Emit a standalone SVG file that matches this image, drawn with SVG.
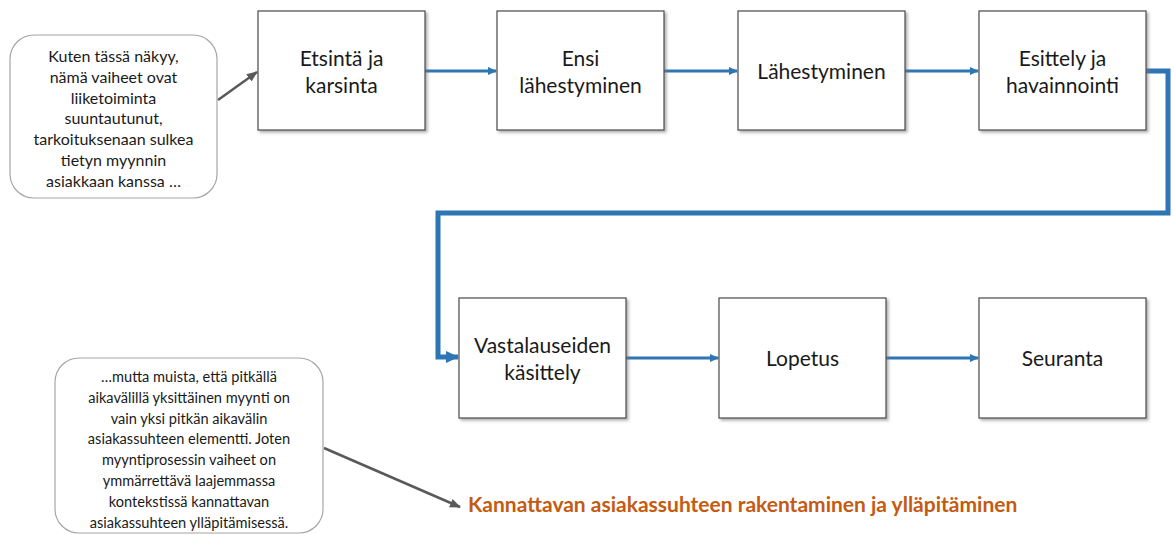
<svg xmlns="http://www.w3.org/2000/svg" width="1175" height="535" viewBox="0 0 1175 535">
<style>
.box{fill:#fff;stroke:#4a4a4a;stroke-width:1.2;filter:url(#sh)}
.bt{font-family:Lato,"Liberation Sans",sans-serif;font-size:21px;fill:#1a1a1a;text-anchor:middle}
.ct{font-family:Lato,"Liberation Sans",sans-serif;font-size:16px;fill:#1a1a1a;text-anchor:middle}
.ct2{font-family:Lato,"Liberation Sans",sans-serif;font-size:14.6px;fill:#1a1a1a;text-anchor:middle}
.call{fill:#fff;stroke:#a6a6a6;stroke-width:1.2}
.blue{fill:none;stroke:#2e75b6;stroke-width:3;marker-end:url(#ab)}
.blueb{fill:none;stroke:#2e75b6;stroke-width:5;stroke-linejoin:miter;marker-end:url(#abb)}
.grey{fill:none;stroke:#595959;stroke-width:2.5;marker-end:url(#ag)}
.ot{font-family:Lato,"Liberation Sans",sans-serif;font-size:21px;font-weight:bold;fill:#c55a11}
</style>
<defs>
<filter id="sh" x="-10%" y="-10%" width="130%" height="130%">
<feDropShadow dx="2" dy="2" stdDeviation="1.5" flood-color="#777" flood-opacity="0.6"/>
</filter>
<marker id="ab" markerWidth="10" markerHeight="10" refX="8" refY="5" orient="auto" markerUnits="userSpaceOnUse">
<path d="M0,1 L9,5 L0,9 Z" fill="#2e75b6"/>
</marker>
<marker id="abb" markerWidth="14" markerHeight="14" refX="12" refY="7" orient="auto" markerUnits="userSpaceOnUse">
<path d="M0,1 L13,7 L0,13 Z" fill="#2e75b6"/>
</marker>
<marker id="ag" markerWidth="12" markerHeight="12" refX="10" refY="6" orient="auto" markerUnits="userSpaceOnUse">
<path d="M0,1.5 L11,6 L0,10.5 Z" fill="#595959"/>
</marker>
</defs>

<g id="connectors">
<line class="blue" x1="425" y1="71" x2="496" y2="71"/>
<line class="blue" x1="664" y1="71" x2="737" y2="71"/>
<line class="blue" x1="905" y1="71" x2="978" y2="71"/>
<polyline class="blueb" points="1146,71 1168,71 1168,213 438,213 438,357 458,357"/>
<line class="blue" x1="626" y1="358" x2="718" y2="358"/>
<line class="blue" x1="886" y1="358" x2="978" y2="358"/>
<line class="grey" x1="218" y1="100" x2="257" y2="72"/>
<line class="grey" x1="324" y1="448" x2="460" y2="507"/>
</g>

<g id="n1"><rect class="box" x="258" y="11" width="167" height="119"/>
<text class="bt" x="341.5" y="66">Etsintä ja</text><text class="bt" x="341.5" y="93">karsinta</text></g>
<g id="n2"><rect class="box" x="497" y="11" width="167" height="119"/>
<text class="bt" x="580.5" y="66">Ensi</text><text class="bt" x="580.5" y="93">lähestyminen</text></g>
<g id="n3"><rect class="box" x="738" y="11" width="167" height="119"/>
<text class="bt" x="821.5" y="79">Lähestyminen</text></g>
<g id="n4"><rect class="box" x="979" y="11" width="167" height="119"/>
<text class="bt" x="1062.5" y="66">Esittely ja</text><text class="bt" x="1062.5" y="93">havainnointi</text></g>
<g id="n5"><rect class="box" x="459" y="298" width="167" height="120"/>
<text class="bt" x="542.5" y="353">Vastalauseiden</text><text class="bt" x="542.5" y="380">käsittely</text></g>
<g id="n6"><rect class="box" x="719" y="298" width="167" height="120"/>
<text class="bt" x="802.5" y="366">Lopetus</text></g>
<g id="n7"><rect class="box" x="979" y="298" width="167" height="120"/>
<text class="bt" x="1062.5" y="366">Seuranta</text></g>

<g id="callout1"><rect class="call" x="10" y="35" width="207" height="163" rx="24"/>
<text class="ct" x="113.5" y="62">Kuten tässä näkyy,</text>
<text class="ct" x="113.5" y="83">nämä vaiheet ovat</text>
<text class="ct" x="113.5" y="104">liiketoiminta</text>
<text class="ct" x="113.5" y="124">suuntautunut,</text>
<text class="ct" x="113.5" y="145">tarkoituksenaan sulkea</text>
<text class="ct" x="113.5" y="166">tietyn myynnin</text>
<text class="ct" x="113.5" y="187">asiakkaan kanssa …</text>
</g>

<g id="callout2"><rect class="call" x="55" y="358" width="268" height="175" rx="24"/>
<text class="ct2" x="189" y="382">…mutta muista, että pitkällä</text>
<text class="ct2" x="189" y="403">aikavälillä yksittäinen myynti on</text>
<text class="ct2" x="189" y="424">vain yksi pitkän aikavälin</text>
<text class="ct2" x="189" y="444">asiakassuhteen elementti. Joten</text>
<text class="ct2" x="189" y="465">myyntiprosessin vaiheet on</text>
<text class="ct2" x="189" y="486">ymmärrettävä laajemmassa</text>
<text class="ct2" x="189" y="507">kontekstissä kannattavan</text>
<text class="ct2" x="189" y="528">asiakassuhteen ylläpitämisessä.</text>
</g>

<g id="goal"><text class="ot" x="468" y="512">Kannattavan asiakassuhteen rakentaminen ja ylläpitäminen</text></g>
</svg>
